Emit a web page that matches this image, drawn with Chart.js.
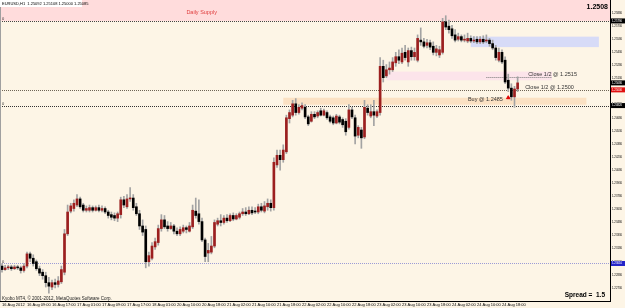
<!DOCTYPE html>
<html>
<head>
<meta charset="utf-8">
<title>EURUSD,H1</title>
<script src="https://cdn.jsdelivr.net/npm/chart.js@4/dist/chart.umd.min.js"></script>
<style>
    html, body { margin: 0; padding: 0; background: #fdf5e6; }
    #wrap { width: 625px; height: 308px; }
</style>
<script>
// EURUSD H1, one value per hourly bar (bar 0 = 16 Aug 2012 01:00)
const opens = [
    1.2298, 1.2294, 1.2296, 1.2297, 1.2295, 1.2297, 1.2296, 1.2293, 1.2298, 1.2312,
    1.2307, 1.2303, 1.2295, 1.2291, 1.2287, 1.2279, 1.2274, 1.2279, 1.2277, 1.2280,
    1.2291, 1.2335, 1.2361, 1.2364, 1.2368, 1.2375, 1.2368, 1.2362, 1.2362, 1.2365,
    1.2362, 1.2365, 1.2362, 1.2364, 1.2360, 1.2357, 1.2356, 1.2353, 1.2357, 1.2374,
    1.2366, 1.2375, 1.2376, 1.2366, 1.2358, 1.2344, 1.2340, 1.2303, 1.2307, 1.2320,
    1.2325, 1.2341, 1.2351, 1.2344, 1.2341, 1.2344, 1.2338, 1.2335, 1.2338, 1.2342,
    1.2338, 1.2343, 1.2361, 1.2358, 1.2349, 1.2328, 1.2313, 1.2314, 1.2321, 1.2346,
    1.2350, 1.2348, 1.2353, 1.2350, 1.2356, 1.2352, 1.2354, 1.2358, 1.2360, 1.2358,
    1.2362, 1.2361, 1.2360, 1.2366, 1.2361, 1.2366, 1.2370, 1.2365, 1.2414, 1.2425,
    1.2420, 1.2429, 1.2467, 1.2471, 1.2484, 1.2474, 1.2479, 1.2480, 1.2469, 1.2464,
    1.2472, 1.2470, 1.2476, 1.2471, 1.2474, 1.2469, 1.2468, 1.2462, 1.2469, 1.2466,
    1.2464, 1.2457, 1.2477, 1.2468, 1.2448, 1.2454, 1.2446, 1.2479, 1.2470, 1.2475,
    1.2470, 1.2474, 1.2527, 1.2516, 1.2523, 1.2523, 1.2531, 1.2538, 1.2532, 1.2543,
    1.2532, 1.2545, 1.2538, 1.2534, 1.2557, 1.2555, 1.2551, 1.2554, 1.2550, 1.2543,
    1.2540, 1.2543, 1.2578, 1.2573, 1.2570, 1.2563, 1.2558, 1.2561, 1.2557, 1.2556,
    1.2559, 1.2556, 1.2558, 1.2555, 1.2558, 1.2556, 1.2557, 1.2553, 1.2548, 1.2534,
    1.2543, 1.2534, 1.2511, 1.2502, 1.2492, 1.2501
];
const highs = [
    1.2301, 1.2299, 1.2299, 1.2299, 1.2299, 1.2299, 1.2298, 1.2301, 1.2314, 1.2314,
    1.2311, 1.2305, 1.2298, 1.2294, 1.2291, 1.2285, 1.2282, 1.2283, 1.2286, 1.2298,
    1.2340, 1.2368, 1.2370, 1.2374, 1.2380, 1.2377, 1.2370, 1.2367, 1.2368, 1.2367,
    1.2367, 1.2368, 1.2367, 1.2366, 1.2362, 1.2360, 1.2359, 1.2360, 1.2377, 1.2378,
    1.2380, 1.2388, 1.2380, 1.2370, 1.2362, 1.2351, 1.2344, 1.2314, 1.2325, 1.2330,
    1.2345, 1.2357, 1.2356, 1.2349, 1.2348, 1.2346, 1.2342, 1.2343, 1.2345, 1.2344,
    1.2348, 1.2368, 1.2376, 1.2374, 1.2353, 1.2330, 1.2324, 1.2332, 1.2351, 1.2353,
    1.2357, 1.2356, 1.2357, 1.2358, 1.2359, 1.2358, 1.2360, 1.2364, 1.2365, 1.2366,
    1.2366, 1.2365, 1.2369, 1.2370, 1.2372, 1.2375, 1.2374, 1.2422, 1.2431, 1.2431,
    1.2437, 1.2471, 1.2477, 1.2488, 1.2490, 1.2483, 1.2485, 1.2483, 1.2471, 1.2475,
    1.2475, 1.2476, 1.2479, 1.2478, 1.2476, 1.2471, 1.2470, 1.2472, 1.2471, 1.2468,
    1.2467, 1.2483, 1.2480, 1.2471, 1.2459, 1.2457, 1.2488, 1.2483, 1.2483, 1.2488,
    1.2477, 1.2537, 1.2534, 1.2529, 1.2532, 1.2537, 1.2543, 1.2546, 1.2548, 1.2551,
    1.2548, 1.2549, 1.2548, 1.2563, 1.2571, 1.2559, 1.2558, 1.2557, 1.2555, 1.2551,
    1.2550, 1.2582, 1.2585, 1.2580, 1.2574, 1.2569, 1.2565, 1.2563, 1.2563, 1.2565,
    1.2562, 1.2561, 1.2561, 1.2561, 1.2562, 1.2563, 1.2559, 1.2557, 1.2551, 1.2548,
    1.2546, 1.2538, 1.2518, 1.2507, 1.2504, 1.2515
];
const lows = [
    1.2291, 1.2293, 1.2294, 1.2293, 1.2294, 1.2294, 1.2290, 1.2291, 1.2296, 1.2303,
    1.2298, 1.2293, 1.2287, 1.2283, 1.2274, 1.2267, 1.2271, 1.2273, 1.2274, 1.2278,
    1.2288, 1.2333, 1.2359, 1.2361, 1.2366, 1.2364, 1.2360, 1.2360, 1.2360, 1.2360,
    1.2361, 1.2360, 1.2360, 1.2358, 1.2353, 1.2351, 1.2350, 1.2349, 1.2353, 1.2365,
    1.2364, 1.2372, 1.2362, 1.2356, 1.2340, 1.2333, 1.2296, 1.2298, 1.2305, 1.2317,
    1.2322, 1.2338, 1.2341, 1.2338, 1.2340, 1.2335, 1.2333, 1.2333, 1.2336, 1.2336,
    1.2337, 1.2341, 1.2353, 1.2346, 1.2326, 1.2303, 1.2303, 1.2312, 1.2319, 1.2344,
    1.2344, 1.2346, 1.2348, 1.2349, 1.2350, 1.2351, 1.2352, 1.2356, 1.2356, 1.2357,
    1.2357, 1.2358, 1.2358, 1.2360, 1.2359, 1.2362, 1.2361, 1.2362, 1.2411, 1.2408,
    1.2417, 1.2427, 1.2462, 1.2469, 1.2471, 1.2472, 1.2477, 1.2467, 1.2459, 1.2463,
    1.2467, 1.2468, 1.2470, 1.2470, 1.2466, 1.2462, 1.2460, 1.2461, 1.2461, 1.2457,
    1.2448, 1.2455, 1.2467, 1.2438, 1.2445, 1.2433, 1.2444, 1.2471, 1.2468, 1.2459,
    1.2468, 1.2471, 1.2509, 1.2514, 1.2518, 1.2521, 1.2527, 1.2530, 1.2530, 1.2534,
    1.2527, 1.2534, 1.2534, 1.2532, 1.2551, 1.2548, 1.2548, 1.2546, 1.2540, 1.2539,
    1.2537, 1.2541, 1.2569, 1.2565, 1.2559, 1.2555, 1.2556, 1.2555, 1.2555, 1.2554,
    1.2554, 1.2554, 1.2553, 1.2553, 1.2553, 1.2554, 1.2550, 1.2546, 1.2534, 1.2532,
    1.2530, 1.2507, 1.2498, 1.2488, 1.2480, 1.2498
];
const closes = [
    1.2294, 1.2296, 1.2297, 1.2295, 1.2297, 1.2296, 1.2293, 1.2298, 1.2312, 1.2307,
    1.2301, 1.2295, 1.2290, 1.2287, 1.2279, 1.2275, 1.2279, 1.2277, 1.2281, 1.2294,
    1.2335, 1.2360, 1.2367, 1.2370, 1.2375, 1.2366, 1.2362, 1.2364, 1.2365, 1.2362,
    1.2365, 1.2362, 1.2364, 1.2360, 1.2356, 1.2354, 1.2353, 1.2358, 1.2374, 1.2368,
    1.2375, 1.2376, 1.2365, 1.2358, 1.2344, 1.2337, 1.2303, 1.2310, 1.2321, 1.2326,
    1.2341, 1.2351, 1.2343, 1.2341, 1.2344, 1.2338, 1.2335, 1.2340, 1.2342, 1.2340,
    1.2344, 1.2362, 1.2356, 1.2349, 1.2328, 1.2309, 1.2316, 1.2321, 1.2348, 1.2350,
    1.2348, 1.2353, 1.2350, 1.2356, 1.2352, 1.2356, 1.2358, 1.2360, 1.2358, 1.2362,
    1.2359, 1.2360, 1.2366, 1.2362, 1.2367, 1.2370, 1.2365, 1.2417, 1.2425, 1.2420,
    1.2431, 1.2468, 1.2474, 1.2484, 1.2474, 1.2480, 1.2482, 1.2469, 1.2461, 1.2472,
    1.2469, 1.2474, 1.2471, 1.2476, 1.2468, 1.2464, 1.2462, 1.2470, 1.2463, 1.2460,
    1.2452, 1.2477, 1.2469, 1.2447, 1.2457, 1.2445, 1.2480, 1.2474, 1.2475, 1.2471,
    1.2475, 1.2527, 1.2514, 1.2523, 1.2525, 1.2532, 1.2538, 1.2534, 1.2542, 1.2537,
    1.2545, 1.2538, 1.2543, 1.2559, 1.2555, 1.2550, 1.2554, 1.2549, 1.2543, 1.2547,
    1.2546, 1.2578, 1.2572, 1.2569, 1.2562, 1.2557, 1.2561, 1.2557, 1.2558, 1.2559,
    1.2556, 1.2557, 1.2555, 1.2558, 1.2555, 1.2557, 1.2553, 1.2548, 1.2537, 1.2543,
    1.2532, 1.2509, 1.2502, 1.2492, 1.2501, 1.2508
];

// one time label every 8 bars
const timeLabels = [
    "16 Aug 2012", "16 Aug 09:00", "16 Aug 17:00", "17 Aug 01:00", "17 Aug 09:00",
    "17 Aug 17:00", "18 Aug 01:00", "20 Aug 10:00", "20 Aug 18:00", "21 Aug 02:00",
    "21 Aug 10:00", "21 Aug 18:00", "22 Aug 02:00", "22 Aug 10:00", "22 Aug 18:00",
    "23 Aug 02:00", "23 Aug 10:00", "23 Aug 18:00", "24 Aug 02:00", "24 Aug 10:00",
    "24 Aug 18:00"
];
const labelStep = 8;

const priceTicks = [
    1.25880, 1.25730, 1.25580, 1.25430, 1.25280, 1.25130, 1.24980, 1.24830,
    1.24680, 1.24530, 1.24380, 1.24230, 1.24080, 1.23930, 1.23780, 1.23630,
    1.23480, 1.23330, 1.23180, 1.23030, 1.22880, 1.22730
];

// drawn objects, in price / bar units
const supplyZone = [1.2579, 1.2603];
const sellZone = { bars: [150, 191], prices: [1.2549, 1.2561] };
const closeZone = { bars: [123, 176], prices: [1.2511, 1.2521] };
const buyZone = { bars: [90, 187], prices: [1.2483, 1.2491] };
const hLines = [1.2579, 1.2500, 1.2482, 1.2301];
const closeLevel = { bars: [155, 176], price: 1.2515 };
const tradeArrow = { bar: 162, price: 1.2491 };
const notes = [
    { text: "Daily Supply", bar: 59, price: 1.2589 },
    { text: "Close 1/2 @ 1.2515", bar: 168.4, price: 1.2518 },
    { text: "Close 1/2 @ 1.2500", bar: 167.4, price: 1.2503 },
    { text: "Buy @ 1.2485", bar: 149.1, price: 1.2489 }
];
const symbolTitle = "EURUSD,H1  1.25092 1.25108 1.25000 1.25085";
const spread = 1.5;
const copyright = "Kyobo MT4, \u00A9 2001-2012, MetaQuotes Software Corp.";

const bull = '#9c1f1f';
const bear = '#000000';
const wick = '#a3a3a3';
const font = 'Liberation Sans';
</script>
</head>
<body>
<div id="wrap"><canvas id="chartCanvas" width="625" height="308"></canvas></div>
<script>
    const bars = opens.map((_, i) => i);

    function band(ctx, x, y, b0, b1, p0, p1, color) {
        const xa = x.getPixelForValue(b0), xb = x.getPixelForValue(b1);
        const ya = y.getPixelForValue(p1), yb = y.getPixelForValue(p0);
        ctx.fillStyle = color;
        ctx.fillRect(xa, ya, xb - xa, yb - ya);
    }

    function dotted(ctx, x0, x1, py, color) {
        ctx.strokeStyle = color;
        ctx.lineWidth = 1;
        ctx.setLineDash([1, 1]);
        ctx.beginPath();
        ctx.moveTo(x0, Math.round(py) + 0.5);
        ctx.lineTo(x1, Math.round(py) + 0.5);
        ctx.stroke();
        ctx.setLineDash([]);
    }

    const mt4 = {
        id: 'mt4',
        beforeDatasetsDraw(chart) {
            const { ctx, chartArea: a, scales: { x, y } } = chart;
            ctx.save();
            ctx.beginPath();
            ctx.rect(a.left, a.top, a.right - a.left, a.bottom - a.top);
            ctx.clip();
            // zones
            ctx.fillStyle = '#ffdcdc';
            const st = y.getPixelForValue(supplyZone[1]), sb = y.getPixelForValue(supplyZone[0]);
            ctx.fillRect(a.left, st, a.right - a.left, sb - st);
            band(ctx, x, y, sellZone.bars[0], sellZone.bars[1], sellZone.prices[0], sellZone.prices[1], '#d7dbf7');
            band(ctx, x, y, closeZone.bars[0], closeZone.bars[1], closeZone.prices[0], closeZone.prices[1], '#fce4ea');
            band(ctx, x, y, buyZone.bars[0], buyZone.bars[1], buyZone.prices[0], buyZone.prices[1], '#fbe1c3');
            // horizontal lines
            const lineColors = ['#444', '#6e6455', '#333', '#9c9cd6'];
            hLines.forEach((p, i) => dotted(ctx, a.left, a.right, y.getPixelForValue(p), lineColors[i]));
            dotted(ctx, x.getPixelForValue(closeLevel.bars[0]), x.getPixelForValue(closeLevel.bars[1]),
                y.getPixelForValue(closeLevel.price), '#777');
            // line labels on the left
            ctx.fillStyle = '#333';
            ctx.font = '4px ' + font;
            ctx.textBaseline = 'bottom';
            hLines.forEach((p, i) => { if (i !== 1) ctx.fillText('0', a.left + 2, y.getPixelForValue(p)); });
            ctx.restore();
        },
        afterDatasetsDraw(chart) {
            const { ctx, scales: { x, y } } = chart;
            ctx.save();
            ctx.font = '5.5px ' + font;
            ctx.textBaseline = 'middle';
            notes.forEach((n, i) => {
                ctx.fillStyle = i === 0 ? '#e04040' : '#333';
                ctx.fillText(n.text, x.getPixelForValue(n.bar), y.getPixelForValue(n.price));
            });
            ctx.restore();
        },
        afterDraw(chart) {
            const { ctx, chartArea: a, scales: { y } } = chart;
            ctx.save();
            // left window border
            ctx.fillStyle = '#a0a0a0';
            ctx.fillRect(0, 0, 1, a.bottom);
            // symbol title
            ctx.fillStyle = '#ffffff';
            ctx.fillRect(0, 0, 82, 7);
            ctx.fillStyle = '#000';
            ctx.font = '4px ' + font;
            ctx.textBaseline = 'top';
            ctx.fillText(symbolTitle, 2, 1.5);
            // last price, top right
            ctx.font = 'bold 7px ' + font;
            ctx.textAlign = 'right';
            ctx.textBaseline = 'alphabetic';
            ctx.fillText(closes[closes.length - 1].toFixed(4), a.right - 2, 9);
            // spread
            ctx.font = 'bold 6.5px ' + font;
            ctx.fillText('Spread =  ' + spread.toFixed(1), a.right - 5, a.bottom - 4);
            // copyright
            ctx.textAlign = 'left';
            ctx.font = '4.5px ' + font;
            ctx.fillStyle = '#222';
            ctx.fillText(copyright, 2, a.bottom - 1.5);
            // highlighted price labels on the axis
            const marks = [
                { p: hLines[0], bg: '#000', fg: '#fff' },
                { p: closes[closes.length - 1], bg: '#000', fg: '#fff' },
                { p: hLines[1], bg: '#e01010', fg: '#fff' },
                { p: hLines[2], bg: '#000', fg: '#fff' },
                { p: hLines[3], bg: '#2424c8', fg: '#fff' }
            ];
            ctx.font = '2.8px ' + font;
            ctx.textBaseline = 'middle';
            marks.forEach(m => {
                const py = y.getPixelForValue(m.p);
                ctx.fillStyle = m.bg;
                ctx.fillRect(a.right + 1, py - 2.5, 625 - a.right - 1, 5);
                ctx.fillStyle = m.fg;
                ctx.fillText(m.p.toFixed(5), a.right + 2, py);
            });
            ctx.restore();
        }
    };

    const config = {
        type: 'bar',
        data: {
            datasets: [
                {
                    label: 'wicks',
                    data: bars.map(i => ({ x: i, y: [lows[i], highs[i]] })),
                    backgroundColor: wick,
                    barThickness: 1,
                    grouped: false,
                    order: 2
                },
                {
                    label: 'bodies',
                    data: bars.map(i => ({ x: i, y: [opens[i], closes[i]] })),
                    backgroundColor: bars.map(i => closes[i] >= opens[i] ? bull : bear),
                    barThickness: 2,
                    minBarLength: 1,
                    grouped: false,
                    order: 1
                },
                {
                    type: 'scatter',
                    label: 'trade',
                    data: [{ x: tradeArrow.bar, y: tradeArrow.price }],
                    pointStyle: 'triangle',
                    radius: 2,
                    backgroundColor: '#e00000',
                    borderColor: '#e00000',
                    order: 0
                }
            ]
        },
        options: {
            responsive: false,
            animation: false,
            events: [],
            layout: { padding: 0, autoPadding: false },
            plugins: { legend: { display: false }, tooltip: { enabled: false } },
            scales: {
                x: {
                    type: 'linear',
                    min: -0.64,
                    max: 194.56,
                    offset: false,
                    grid: { display: false, drawTicks: false },
                    border: { display: true, color: '#000', width: 1 },
                    afterBuildTicks: s => { s.ticks = timeLabels.map((_, k) => ({ value: k * labelStep })); },
                    afterFit: s => { s.height = 7; s.paddingLeft = 0; s.paddingRight = 0; },
                    ticks: {
                        autoSkip: false,
                        maxRotation: 0,
                        minRotation: 0,
                        align: 'start',
                        padding: 1,
                        color: '#000',
                        font: { size: 4, family: font },
                        callback: (v, i) => timeLabels[i]
                    }
                },
                y: {
                    position: 'right',
                    min: 1.2258,
                    max: 1.2603,
                    grid: { display: false, drawTicks: false },
                    border: { display: true, color: '#000', width: 1 },
                    afterBuildTicks: s => { s.ticks = priceTicks.map(v => ({ value: v })); },
                    afterFit: s => { s.width = 15; s.paddingTop = 0; s.paddingBottom = 0; },
                    ticks: {
                        autoSkip: false,
                        padding: 2,
                        color: '#000',
                        font: { size: 2.8, family: font },
                        callback: v => v.toFixed(5)
                    }
                }
            }
        },
        plugins: [mt4]
    };

    new Chart(document.getElementById('chartCanvas'), config);
</script>
</body>
</html>
